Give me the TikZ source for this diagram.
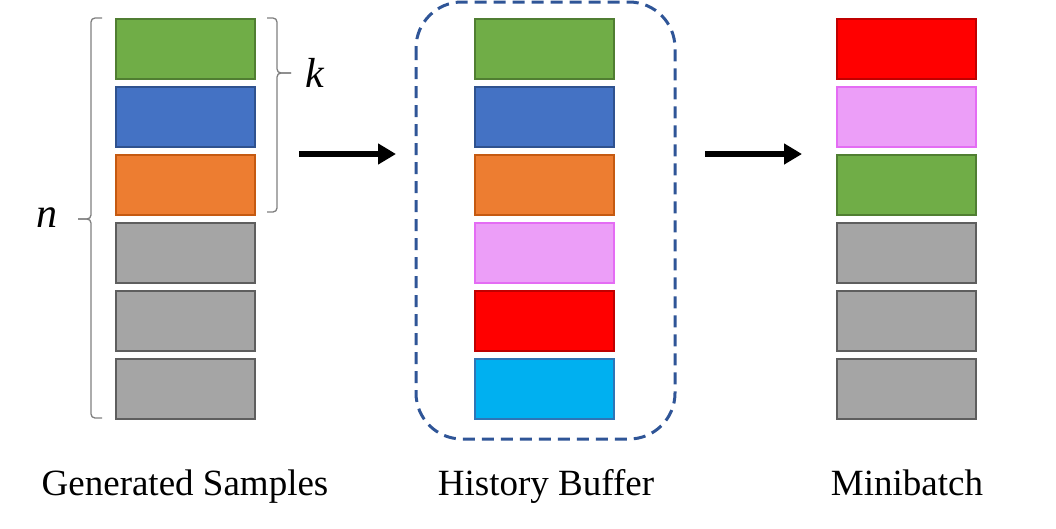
\documentclass[tikz,border=0pt]{standalone}
\usepackage{fontspec}
\setmainfont{Liberation Serif}
\usetikzlibrary{arrows.meta}
\definecolor{cgreen}{HTML}{70AD47}\definecolor{cgreenD}{HTML}{507E32}
\definecolor{cblue}{HTML}{4472C4}\definecolor{cblueD}{HTML}{2F528F}
\definecolor{corange}{HTML}{ED7D31}\definecolor{corangeD}{HTML}{C55A11}
\definecolor{cgray}{HTML}{A5A5A5}\definecolor{cgrayD}{HTML}{5E5E5E}
\definecolor{cpink}{HTML}{EC9EF8}\definecolor{cpinkD}{HTML}{E46CF4}
\definecolor{cred}{HTML}{FF0000}\definecolor{credD}{HTML}{C00000}
\definecolor{ccyan}{HTML}{00B0F0}\definecolor{ccyanD}{HTML}{2E75B6}
\definecolor{cdash}{HTML}{2F5597}
\definecolor{cbrace}{HTML}{7F7F7F}
\tikzset{
  cell/.style={draw, line width=2pt, minimum width=139pt, minimum height=60pt, inner sep=0pt},
  green/.style={cell, fill=cgreen, draw=cgreenD},
  blue/.style={cell, fill=cblue, draw=cblueD},
  orange/.style={cell, fill=corange, draw=corangeD},
  gray/.style={cell, fill=cgray, draw=cgrayD},
  pink/.style={cell, fill=cpink, draw=cpinkD},
  red/.style={cell, fill=cred, draw=credD},
  cyan/.style={cell, fill=ccyan, draw=ccyanD},
  bigarrow/.style={line width=5.5pt, -{Triangle[length=18pt,width=20pt]}},
  brace/.style={draw=cbrace, line width=1.3pt, rounded corners=4pt},
  caption/.style={anchor=base, font=\fontsize{37}{40}\selectfont, inner sep=0pt},
  var/.style={anchor=base, font=\fontsize{42}{46}\selectfont\itshape, inner sep=0pt}
}
\begin{document}
\begin{tikzpicture}[x=1pt,y=-1pt]
\useasboundingbox (0,0) rectangle (1056,528);
% dashed buffer outline
\draw[cdash, line width=3pt, dash pattern=on 12pt off 7pt, rounded corners=46pt] (416,2) rectangle (675,439);
% left column
\node[green]  (g1) at (185.5,48.5) {};
\node[blue]   (g2) at (185.5,116.5) {};
\node[orange] (g3) at (185.5,184.5) {};
\node[gray]   (g4) at (185.5,252.5) {};
\node[gray]   (g5) at (185.5,320.5) {};
\node[gray]   (g6) at (185.5,388.5) {};
% middle column
\node[green]  (h1) at (544.5,48.5) {};
\node[blue]   (h2) at (544.5,116.5) {};
\node[orange] (h3) at (544.5,184.5) {};
\node[pink]   (h4) at (544.5,252.5) {};
\node[red]    (h5) at (544.5,320.5) {};
\node[cyan]   (h6) at (544.5,388.5) {};
% right column
\node[red]    (m1) at (906.5,49) {};
\node[pink]   (m2) at (906.5,116.5) {};
\node[green]  (m3) at (906.5,184.5) {};
\node[gray]   (m4) at (906.5,252.5) {};
\node[gray]   (m5) at (906.5,320.5) {};
\node[gray]   (m6) at (906.5,388.5) {};
% braces
\draw[brace] (102,18) -- (91,18) -- (91,219) -- (78,219);
\draw[brace] (78,219) -- (91,219) -- (91,418) -- (102,418);
\draw[brace] (267,18) -- (277,18) -- (277,73) -- (291,73);
\draw[brace] (291,73) -- (277,73) -- (277,212) -- (267,212);
\node[var] (n) at (47,227) {n};
\node[var] (k) at (315,87) {k};
% arrows
\coordinate (a1s) at (299,154);
\coordinate (a1e) at (396,154);
\coordinate (a2s) at (705,154);
\coordinate (a2e) at (802,154);
\draw[bigarrow] (a1s) -- (a1e);
\draw[bigarrow] (a2s) -- (a2e);
% captions
\node[caption] (c1) at (185,495) {Generated Samples};
\node[caption] (c2) at (546,495) {History Buffer};
\node[caption] (c3) at (907,495) {Minibatch};
\end{tikzpicture}
\end{document}
